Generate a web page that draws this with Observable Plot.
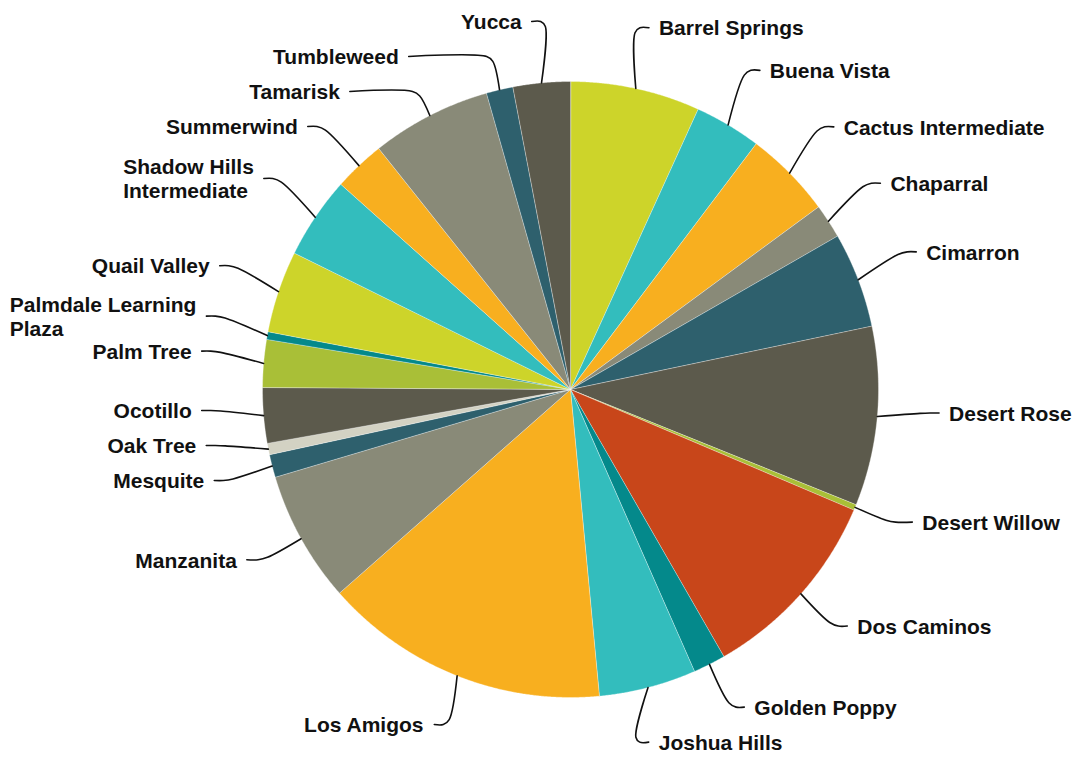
<!DOCTYPE html>
<html><head><meta charset="utf-8">
<script src="https://cdn.jsdelivr.net/npm/d3@7"></script>
<script src="https://cdn.jsdelivr.net/npm/@observablehq/plot@0.6"></script>
<style>body{margin:0;background:#fff;} #chart{width:1077px;height:757px;}</style>
</head><body><div id="chart"></div>
<script>
// ---- data (share of total in %) ----
const schools = ["Barrel Springs","Buena Vista","Cactus Intermediate","Chaparral","Cimarron","Desert Rose","Desert Willow","Dos Caminos","Golden Poppy","Joshua Hills","Los Amigos","Manzanita","Mesquite","Oak Tree","Ocotillo","Palm Tree","Palmdale Learning Plaza","Quail Valley","Shadow Hills Intermediate","Summerwind","Tamarisk","Tumbleweed","Yucca"];
const shares = [6.8,3.5,4.6,1.8,5.0,9.4,0.3,10.3,1.7,5.1,15.0,6.9,1.2,0.6,2.9,2.5,0.4,4.3,4.3,2.7,6.3,1.4,3.0];
const palette = ["#CDD42A","#33BDBD","#F8AF1F","#898A78","#2E606D","#5C5A4C","#A9BF37","#C8461A","#04898B","#33BDBD","#F8AF1F","#898A78","#2E606D","#D3D2C3","#5C5A4C","#A9BF37","#04898B","#CDD42A","#33BDBD","#F8AF1F","#898A78","#2E606D","#5C5A4C"];

// ---- layout ----
const W = 1077, H = 757, CX = 570, CY = 389, R = 308;
const FS = 21, FONT = `bold ${FS}px "Liberation Sans", Arial, sans-serif`;
const RL = 370, LOFF = -9, GAP = 35, TXT = 10, MAXW = 205;

const rows = schools.map((name, i) => ({name, v: shares[i], color: palette[i]}));
const arcs = d3.pie().sort(null).value(d => d.v)(rows);

// slice polygons (unit coordinates, radius 1, y up)
const poly = [];
arcs.forEach(a => {
  const d = a.data;
  poly.push({name: d.name, color: d.color, x: 0, y: 0});
  const n = Math.max(2, Math.ceil((a.endAngle - a.startAngle) / 0.004));
  for (let k = 0; k <= n; k++) {
    const t = a.startAngle + (a.endAngle - a.startAngle) * k / n;
    poly.push({name: d.name, color: d.color, x: Math.sin(t), y: Math.cos(t)});
  }
});

// text measuring + wrapping
const ctx = document.createElement("canvas").getContext("2d");
ctx.font = FONT;
function wrap(text) {
  const words = text.split(" "); const lines = []; let cur = "";
  for (const w of words) {
    const t = cur ? cur + " " + w : w;
    if (cur && ctx.measureText(t).width > MAXW) { lines.push(cur); cur = w; } else cur = t;
  }
  lines.push(cur);
  return lines;
}

// labels (px relative to center, y down)
const labs = arcs.map(a => {
  const m = (a.startAngle + a.endAngle) / 2;
  const side = m < Math.PI ? 1 : -1;
  const off = LOFF * Math.min(1, 1 - Math.cos(m));
  return {name: a.data.name, m, side, off, ly: -RL * Math.cos(m) + off};
});
for (const s of [1, -1]) {
  const g = labs.filter(l => l.side === s).sort((a, b) => a.ly - b.ly);
  for (let it = 0; it < 300; it++) {
    for (let i = 1; i < g.length; i++) {
      const d = g[i].ly - g[i-1].ly;
      if (d < GAP) { const sh = (GAP - d) / 2; g[i-1].ly -= sh; g[i].ly += sh; }
    }
    for (const l of g) l.ly = Math.max(-CY + 21, Math.min(H - CY - 12, l.ly));
  }
}
const leaders = [], texts = [];
labs.forEach(l => {
  const s = l.side;
  const ry = l.ly - l.off;
  const lx = s * Math.sqrt(Math.max(RL * RL - ry * ry, 30 * 30));
  const dx = Math.sin(l.m), dy = -Math.cos(l.m);
  const p0 = [R * dx, R * dy];
  let P1;
  const tS = Math.abs(dy) > 1e-6 ? (l.ly - p0[1]) / dy : -1;
  const cand = [p0[0] + dx * tS, p0[1] + dy * tS];
  if (tS >= 6 && s * (lx - cand[0]) >= 12) P1 = cand; else P1 = [lx - s * 14, l.ly];
  const L = [lx, l.ly];
  const toward = (a, b, dist) => { const vx = b[0]-a[0], vy = b[1]-a[1], len = Math.hypot(vx, vy) || 1; const k = Math.min(dist, len/2)/len; return [a[0]+vx*k, a[1]+vy*k]; };
  const A = toward(P1, p0, 5), B = toward(P1, L, 5);
  [p0, A, B, L].forEach(p => leaders.push({name: l.name, x: p[0] / R, y: -p[1] / R}));
  const lines = wrap(l.name);
  const bw = Math.max(...lines.map(t => ctx.measureText(t).width));
  const tx = s > 0 ? lx + TXT : lx - TXT - bw;
  texts.push({text: lines.join("\n"), x: tx / R, y: -l.ly / R});
});

const chart = Plot.plot({
  width: W, height: H, margin: 0,
  x: {domain: [-CX / R, (W - CX) / R], axis: null},
  y: {domain: [-(H - CY) / R, CY / R], axis: null},
  color: {type: "identity"},
  style: {background: "white"},
  marks: [
    Plot.line(poly, {x: "x", y: "y", z: "name", fill: "color", stroke: "white", strokeWidth: 0.5, strokeOpacity: 0.7, curve: "linear-closed"}),
    Plot.line(leaders, {x: "x", y: "y", z: "name", stroke: "#111", strokeWidth: 1.6, curve: "catmull-rom"}),
    Plot.text(texts, {x: "x", y: "y", text: "text", textAnchor: "start", lineAnchor: "middle", lineHeight: 1.15,
      fontSize: FS, fontWeight: "bold", fontFamily: '"Liberation Sans", Arial, sans-serif', fill: "#111"})
  ]
});
document.getElementById("chart").appendChild(chart);
</script>
</body></html>
